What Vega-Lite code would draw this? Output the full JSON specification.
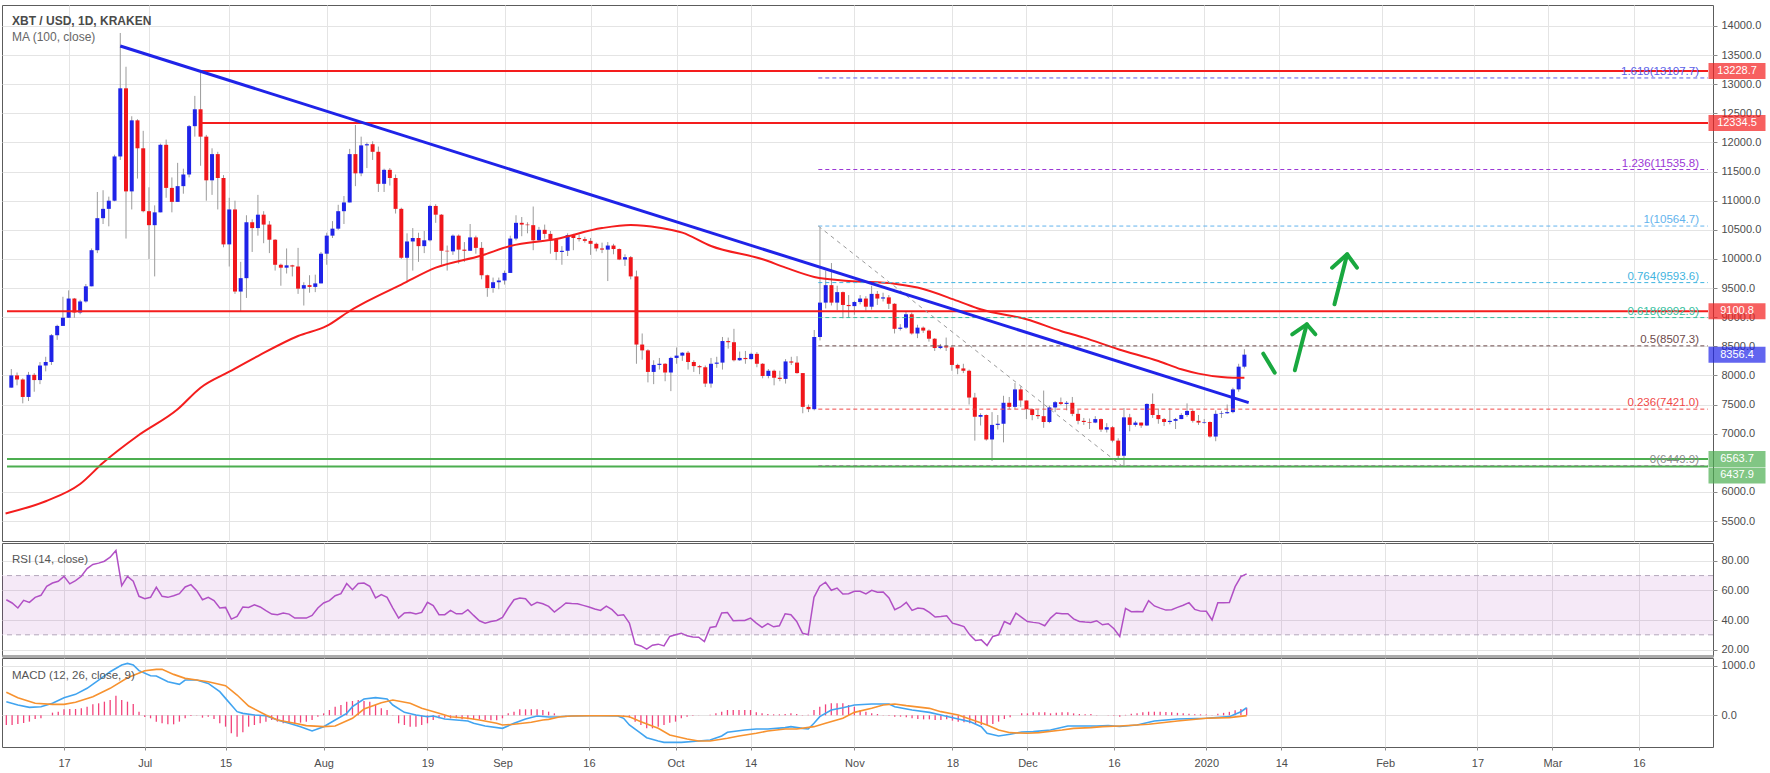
{
"$schema":"https://vega.github.io/schema/vega-lite/v6.json",
"padding":{"left":1,"top":4,"right":0,"bottom":0},
"background":"white",
"spacing":0,
"config":{"font":"Liberation Sans","view":{"stroke":"#5c5c5c","strokeWidth":1},"concat":{"spacing":0},"axis":{"labelFont":"Liberation Sans","labelFontSize":11,"labelColor":"#4d4d4d","gridColor":"#e4e4e4","tickColor":"#8a8a8a","domainColor":"#5c5c5c","labelOverlap":false}},
"resolve":{"scale":{"x":"independent","y":"independent"}},
"datasets":{
"daily":[
{"date":"2019-06-07","o":7790,"h":8110,"l":7790,"c":8000,"rsi":53.7,"hist":-195},
{"date":"2019-06-08","o":8000,"h":8050,"l":7830,"c":7930,"rsi":51.5,"hist":-195},
{"date":"2019-06-09","o":7930,"h":7950,"l":7520,"c":7630,"rsi":48.1,"hist":-174},
{"date":"2019-06-10","o":7630,"h":8060,"l":7560,"c":8010,"rsi":53.3,"hist":-154},
{"date":"2019-06-11","o":8010,"h":8040,"l":7720,"c":7920,"rsi":51.9,"hist":-127},
{"date":"2019-06-12","o":7920,"h":8230,"l":7850,"c":8170,"rsi":55.3,"hist":-74},
{"date":"2019-06-13","o":8170,"h":8320,"l":8070,"c":8230,"rsi":56.7,"hist":-60},
{"date":"2019-06-14","o":8230,"h":8710,"l":8180,"c":8690,"rsi":62.8,"hist":0},
{"date":"2019-06-15","o":8690,"h":8870,"l":8610,"c":8850,"rsi":65.0,"hist":54},
{"date":"2019-06-16","o":8850,"h":9350,"l":8850,"c":8990,"rsi":66.2,"hist":74},
{"date":"2019-06-17","o":8990,"h":9460,"l":8990,"c":9320,"rsi":69.5,"hist":121},
{"date":"2019-06-18","o":9320,"h":9330,"l":8990,"c":9080,"rsi":64.4,"hist":127},
{"date":"2019-06-19","o":9080,"h":9300,"l":9050,"c":9270,"rsi":66.6,"hist":127},
{"date":"2019-06-20","o":9270,"h":9570,"l":9250,"c":9530,"rsi":69.5,"hist":141},
{"date":"2019-06-21","o":9530,"h":10180,"l":9530,"c":10150,"rsi":74.7,"hist":174},
{"date":"2019-06-22","o":10150,"h":11150,"l":10100,"c":10700,"rsi":77.5,"hist":221},
{"date":"2019-06-23","o":10700,"h":11180,"l":10600,"c":10860,"rsi":78.4,"hist":242},
{"date":"2019-06-24","o":10860,"h":11070,"l":10560,"c":11000,"rsi":79.7,"hist":275},
{"date":"2019-06-25","o":11000,"h":11790,"l":10990,"c":11760,"rsi":82.4,"hist":309},
{"date":"2019-06-26","o":11760,"h":13880,"l":11700,"c":12930,"rsi":86.9,"hist":396},
{"date":"2019-06-27","o":12930,"h":13300,"l":10350,"c":11160,"rsi":63.2,"hist":309},
{"date":"2019-06-28","o":11160,"h":12450,"l":10850,"c":12380,"rsi":69.5,"hist":275},
{"date":"2019-06-29","o":12380,"h":12400,"l":11380,"c":11900,"rsi":66.2,"hist":228},
{"date":"2019-06-30","o":11900,"h":12200,"l":10800,"c":10820,"rsi":56.0,"hist":74},
{"date":"2019-07-01","o":10820,"h":11230,"l":10000,"c":10580,"rsi":54.4,"hist":-34},
{"date":"2019-07-02","o":10580,"h":10920,"l":9700,"c":10800,"rsi":55.3,"hist":-60},
{"date":"2019-07-03","o":10800,"h":11980,"l":10800,"c":11960,"rsi":62.1,"hist":-127},
{"date":"2019-07-04","o":11960,"h":12050,"l":11050,"c":11220,"rsi":56.0,"hist":-161},
{"date":"2019-07-05","o":11220,"h":11400,"l":10800,"c":10980,"rsi":55.3,"hist":-181},
{"date":"2019-07-06","o":10980,"h":11650,"l":10980,"c":11250,"rsi":56.4,"hist":-181},
{"date":"2019-07-07","o":11250,"h":11550,"l":11120,"c":11450,"rsi":57.8,"hist":-127},
{"date":"2019-07-08","o":11450,"h":12300,"l":11400,"c":12280,"rsi":62.3,"hist":-60},
{"date":"2019-07-09","o":12280,"h":12800,"l":12100,"c":12570,"rsi":63.9,"hist":-13},
{"date":"2019-07-10","o":12570,"h":13200,"l":11600,"c":12100,"rsi":59.8,"hist":7},
{"date":"2019-07-11","o":12100,"h":12130,"l":11000,"c":11350,"rsi":53.7,"hist":-47},
{"date":"2019-07-12","o":11350,"h":11900,"l":11100,"c":11800,"rsi":55.3,"hist":-27},
{"date":"2019-07-13","o":11800,"h":11840,"l":10850,"c":11390,"rsi":53.1,"hist":-74},
{"date":"2019-07-14","o":11390,"h":11440,"l":10200,"c":10250,"rsi":48.1,"hist":-161},
{"date":"2019-07-15","o":10250,"h":11050,"l":9870,"c":10850,"rsi":48.5,"hist":-228},
{"date":"2019-07-16","o":10850,"h":11000,"l":9400,"c":9440,"rsi":40.6,"hist":-362},
{"date":"2019-07-17","o":9440,"h":9950,"l":9100,"c":9670,"rsi":42.4,"hist":-429},
{"date":"2019-07-18","o":9670,"h":10750,"l":9330,"c":10630,"rsi":48.8,"hist":-342},
{"date":"2019-07-19","o":10630,"h":10680,"l":10120,"c":10530,"rsi":48.5,"hist":-228},
{"date":"2019-07-20","o":10530,"h":11100,"l":10400,"c":10760,"rsi":50.3,"hist":-195},
{"date":"2019-07-21","o":10760,"h":10820,"l":10270,"c":10590,"rsi":48.8,"hist":-161},
{"date":"2019-07-22","o":10590,"h":10650,"l":10100,"c":10330,"rsi":46.3,"hist":-127},
{"date":"2019-07-23","o":10330,"h":10340,"l":9800,"c":9900,"rsi":44.0,"hist":-94},
{"date":"2019-07-24","o":9900,"h":9920,"l":9540,"c":9850,"rsi":43.6,"hist":-127},
{"date":"2019-07-25","o":9850,"h":10180,"l":9750,"c":9890,"rsi":44.7,"hist":-161},
{"date":"2019-07-26","o":9890,"h":9900,"l":9700,"c":9870,"rsi":44.0,"hist":-148},
{"date":"2019-07-27","o":9870,"h":10190,"l":9400,"c":9490,"rsi":41.3,"hist":-161},
{"date":"2019-07-28","o":9490,"h":9600,"l":9200,"c":9550,"rsi":41.3,"hist":-148},
{"date":"2019-07-29","o":9550,"h":9720,"l":9420,"c":9520,"rsi":41.3,"hist":-127},
{"date":"2019-07-30","o":9520,"h":9730,"l":9430,"c":9580,"rsi":43.1,"hist":-94},
{"date":"2019-07-31","o":9580,"h":10120,"l":9580,"c":10090,"rsi":48.1,"hist":-27},
{"date":"2019-08-01","o":10090,"h":10450,"l":9900,"c":10400,"rsi":51.5,"hist":40},
{"date":"2019-08-02","o":10400,"h":10650,"l":10360,"c":10520,"rsi":53.1,"hist":107},
{"date":"2019-08-03","o":10520,"h":10930,"l":10500,"c":10820,"rsi":56.4,"hist":174},
{"date":"2019-08-04","o":10820,"h":11080,"l":10600,"c":10970,"rsi":57.8,"hist":208},
{"date":"2019-08-05","o":10970,"h":11890,"l":10970,"c":11800,"rsi":64.6,"hist":275},
{"date":"2019-08-06","o":11800,"h":12300,"l":11250,"c":11470,"rsi":60.5,"hist":289},
{"date":"2019-08-07","o":11470,"h":12100,"l":11420,"c":11950,"rsi":64.6,"hist":309},
{"date":"2019-08-08","o":11950,"h":12000,"l":11560,"c":11970,"rsi":65.0,"hist":289},
{"date":"2019-08-09","o":11970,"h":12020,"l":11700,"c":11840,"rsi":62.8,"hist":275},
{"date":"2019-08-10","o":11840,"h":11930,"l":11150,"c":11290,"rsi":54.9,"hist":208},
{"date":"2019-08-11","o":11290,"h":11550,"l":11150,"c":11530,"rsi":57.1,"hist":141},
{"date":"2019-08-12","o":11530,"h":11560,"l":11260,"c":11390,"rsi":55.3,"hist":107},
{"date":"2019-08-13","o":11390,"h":11450,"l":10780,"c":10860,"rsi":48.1,"hist":7},
{"date":"2019-08-14","o":10860,"h":10880,"l":10000,"c":10020,"rsi":41.3,"hist":-161},
{"date":"2019-08-15","o":10020,"h":10440,"l":9600,"c":10300,"rsi":44.7,"hist":-195},
{"date":"2019-08-16","o":10300,"h":10530,"l":9800,"c":10360,"rsi":45.1,"hist":-228},
{"date":"2019-08-17","o":10360,"h":10450,"l":9950,"c":10220,"rsi":44.0,"hist":-228},
{"date":"2019-08-18","o":10220,"h":10480,"l":10100,"c":10320,"rsi":45.1,"hist":-195},
{"date":"2019-08-19","o":10320,"h":10930,"l":10300,"c":10910,"rsi":51.9,"hist":-161},
{"date":"2019-08-20","o":10910,"h":10940,"l":10620,"c":10760,"rsi":49.7,"hist":-94},
{"date":"2019-08-21","o":10760,"h":10770,"l":9900,"c":10140,"rsi":43.6,"hist":-60},
{"date":"2019-08-22","o":10140,"h":10230,"l":9800,"c":10130,"rsi":43.6,"hist":-47},
{"date":"2019-08-23","o":10130,"h":10420,"l":10070,"c":10400,"rsi":46.5,"hist":-60},
{"date":"2019-08-24","o":10400,"h":10420,"l":9920,"c":10160,"rsi":44.2,"hist":-60},
{"date":"2019-08-25","o":10160,"h":10290,"l":9950,"c":10140,"rsi":44.2,"hist":-81},
{"date":"2019-08-26","o":10140,"h":10600,"l":10140,"c":10370,"rsi":47.0,"hist":-81},
{"date":"2019-08-27","o":10370,"h":10400,"l":10090,"c":10190,"rsi":43.1,"hist":-81},
{"date":"2019-08-28","o":10190,"h":10290,"l":9650,"c":9720,"rsi":39.5,"hist":-81},
{"date":"2019-08-29","o":9720,"h":9730,"l":9350,"c":9500,"rsi":37.9,"hist":-94},
{"date":"2019-08-30","o":9500,"h":9680,"l":9420,"c":9600,"rsi":39.0,"hist":-101},
{"date":"2019-08-31","o":9600,"h":9680,"l":9480,"c":9630,"rsi":39.7,"hist":-101},
{"date":"2019-09-01","o":9630,"h":9800,"l":9560,"c":9760,"rsi":41.8,"hist":-60},
{"date":"2019-09-02","o":9760,"h":10400,"l":9760,"c":10350,"rsi":48.1,"hist":40},
{"date":"2019-09-03","o":10350,"h":10750,"l":10320,"c":10620,"rsi":53.7,"hist":74},
{"date":"2019-09-04","o":10620,"h":10720,"l":10390,"c":10590,"rsi":54.9,"hist":121},
{"date":"2019-09-05","o":10590,"h":10630,"l":10440,"c":10580,"rsi":54.4,"hist":121},
{"date":"2019-09-06","o":10580,"h":10900,"l":10150,"c":10320,"rsi":49.9,"hist":121},
{"date":"2019-09-07","o":10320,"h":10550,"l":10300,"c":10500,"rsi":51.9,"hist":121},
{"date":"2019-09-08","o":10500,"h":10590,"l":10350,"c":10430,"rsi":51.0,"hist":107},
{"date":"2019-09-09","o":10430,"h":10480,"l":10090,"c":10340,"rsi":49.2,"hist":74},
{"date":"2019-09-10","o":10340,"h":10360,"l":9980,"c":10120,"rsi":45.4,"hist":40},
{"date":"2019-09-11","o":10120,"h":10220,"l":9900,"c":10140,"rsi":48.3,"hist":0},
{"date":"2019-09-12","o":10140,"h":10440,"l":10050,"c":10410,"rsi":51.5,"hist":5},
{"date":"2019-09-13","o":10410,"h":10430,"l":10150,"c":10360,"rsi":51.2,"hist":3},
{"date":"2019-09-14","o":10360,"h":10420,"l":10300,"c":10340,"rsi":51.0,"hist":-3},
{"date":"2019-09-15","o":10340,"h":10380,"l":10280,"c":10310,"rsi":49.9,"hist":0},
{"date":"2019-09-16","o":10310,"h":10360,"l":10070,"c":10260,"rsi":48.8,"hist":-5},
{"date":"2019-09-17","o":10260,"h":10280,"l":10130,"c":10180,"rsi":47.4,"hist":-3},
{"date":"2019-09-18","o":10180,"h":10280,"l":10100,"c":10160,"rsi":46.5,"hist":0},
{"date":"2019-09-19","o":10160,"h":10290,"l":9620,"c":10230,"rsi":49.4,"hist":3},
{"date":"2019-09-20","o":10230,"h":10260,"l":10080,"c":10170,"rsi":47.0,"hist":-5},
{"date":"2019-09-21","o":10170,"h":10180,"l":9980,"c":9990,"rsi":43.1,"hist":-8},
{"date":"2019-09-22","o":9990,"h":10080,"l":9880,"c":10030,"rsi":43.6,"hist":-10},
{"date":"2019-09-23","o":10030,"h":10050,"l":9650,"c":9700,"rsi":37.9,"hist":-47},
{"date":"2019-09-24","o":9700,"h":9800,"l":8200,"c":8530,"rsi":23.7,"hist":-127},
{"date":"2019-09-25","o":8530,"h":8720,"l":8270,"c":8430,"rsi":22.5,"hist":-195},
{"date":"2019-09-26","o":8430,"h":8450,"l":7880,"c":8060,"rsi":20.3,"hist":-262},
{"date":"2019-09-27","o":8060,"h":8260,"l":7850,"c":8180,"rsi":23.0,"hist":-262},
{"date":"2019-09-28","o":8180,"h":8300,"l":8100,"c":8200,"rsi":23.7,"hist":-228},
{"date":"2019-09-29","o":8200,"h":8210,"l":7900,"c":8050,"rsi":22.5,"hist":-195},
{"date":"2019-09-30","o":8050,"h":8320,"l":7730,"c":8300,"rsi":28.9,"hist":-148},
{"date":"2019-10-01","o":8300,"h":8480,"l":8200,"c":8340,"rsi":30.0,"hist":-127},
{"date":"2019-10-02","o":8340,"h":8400,"l":8250,"c":8390,"rsi":31.1,"hist":-60},
{"date":"2019-10-03","o":8390,"h":8420,"l":8100,"c":8230,"rsi":29.3,"hist":-27},
{"date":"2019-10-04","o":8230,"h":8260,"l":8060,"c":8160,"rsi":28.6,"hist":-10},
{"date":"2019-10-05","o":8160,"h":8180,"l":8020,"c":8140,"rsi":28.4,"hist":-3},
{"date":"2019-10-06","o":8140,"h":8170,"l":7800,"c":7860,"rsi":25.5,"hist":0},
{"date":"2019-10-07","o":7860,"h":8300,"l":7790,"c":8200,"rsi":35.0,"hist":13},
{"date":"2019-10-08","o":8200,"h":8320,"l":8130,"c":8220,"rsi":35.6,"hist":40},
{"date":"2019-10-09","o":8220,"h":8660,"l":8100,"c":8590,"rsi":44.7,"hist":74},
{"date":"2019-10-10","o":8590,"h":8650,"l":8460,"c":8570,"rsi":45.1,"hist":107},
{"date":"2019-10-11","o":8570,"h":8800,"l":8240,"c":8260,"rsi":39.5,"hist":107},
{"date":"2019-10-12","o":8260,"h":8410,"l":8250,"c":8300,"rsi":39.7,"hist":107},
{"date":"2019-10-13","o":8300,"h":8420,"l":8200,"c":8280,"rsi":39.7,"hist":107},
{"date":"2019-10-14","o":8280,"h":8390,"l":8270,"c":8370,"rsi":41.3,"hist":107},
{"date":"2019-10-15","o":8370,"h":8400,"l":8140,"c":8200,"rsi":37.9,"hist":60},
{"date":"2019-10-16","o":8200,"h":8210,"l":7950,"c":7990,"rsi":35.0,"hist":40},
{"date":"2019-10-17","o":7990,"h":8110,"l":7950,"c":8080,"rsi":37.5,"hist":27},
{"date":"2019-10-18","o":8080,"h":8100,"l":7830,"c":7960,"rsi":35.4,"hist":20},
{"date":"2019-10-19","o":7960,"h":8080,"l":7900,"c":7940,"rsi":36.1,"hist":20},
{"date":"2019-10-20","o":7940,"h":8280,"l":7860,"c":8240,"rsi":44.2,"hist":27},
{"date":"2019-10-21","o":8240,"h":8320,"l":8180,"c":8220,"rsi":43.6,"hist":40},
{"date":"2019-10-22","o":8220,"h":8330,"l":8030,"c":8040,"rsi":39.0,"hist":27},
{"date":"2019-10-23","o":8040,"h":8040,"l":7350,"c":7460,"rsi":31.1,"hist":7},
{"date":"2019-10-24","o":7460,"h":7500,"l":7370,"c":7420,"rsi":30.0,"hist":10},
{"date":"2019-10-25","o":7420,"h":8780,"l":7400,"c":8660,"rsi":55.3,"hist":107},
{"date":"2019-10-26","o":8660,"h":10540,"l":8600,"c":9250,"rsi":62.8,"hist":174},
{"date":"2019-10-27","o":9250,"h":9800,"l":9150,"c":9550,"rsi":65.5,"hist":221},
{"date":"2019-10-28","o":9550,"h":9930,"l":9200,"c":9250,"rsi":60.1,"hist":242},
{"date":"2019-10-29","o":9250,"h":9540,"l":9120,"c":9430,"rsi":61.6,"hist":242},
{"date":"2019-10-30","o":9430,"h":9440,"l":8980,"c":9210,"rsi":57.6,"hist":242},
{"date":"2019-10-31","o":9210,"h":9380,"l":8990,"c":9190,"rsi":57.8,"hist":208},
{"date":"2019-11-01","o":9190,"h":9280,"l":9040,"c":9260,"rsi":59.4,"hist":174},
{"date":"2019-11-02","o":9260,"h":9380,"l":9220,"c":9320,"rsi":59.4,"hist":107},
{"date":"2019-11-03","o":9320,"h":9360,"l":9110,"c":9180,"rsi":57.6,"hist":74},
{"date":"2019-11-04","o":9180,"h":9540,"l":9130,"c":9400,"rsi":60.1,"hist":40},
{"date":"2019-11-05","o":9400,"h":9450,"l":9210,"c":9320,"rsi":58.7,"hist":27},
{"date":"2019-11-06","o":9320,"h":9420,"l":9270,"c":9340,"rsi":58.9,"hist":7},
{"date":"2019-11-07","o":9340,"h":9380,"l":9140,"c":9230,"rsi":54.9,"hist":-7},
{"date":"2019-11-08","o":9230,"h":9240,"l":8720,"c":8800,"rsi":47.0,"hist":-27},
{"date":"2019-11-09","o":8800,"h":8880,"l":8770,"c":8820,"rsi":48.8,"hist":-27},
{"date":"2019-11-10","o":8820,"h":9100,"l":8800,"c":9050,"rsi":51.9,"hist":-40},
{"date":"2019-11-11","o":9050,"h":9080,"l":8700,"c":8720,"rsi":46.5,"hist":-60},
{"date":"2019-11-12","o":8720,"h":8870,"l":8640,"c":8820,"rsi":48.1,"hist":-74},
{"date":"2019-11-13","o":8820,"h":8840,"l":8730,"c":8770,"rsi":47.6,"hist":-81},
{"date":"2019-11-14","o":8770,"h":8790,"l":8580,"c":8630,"rsi":45.1,"hist":-81},
{"date":"2019-11-15","o":8630,"h":8640,"l":8420,"c":8470,"rsi":42.0,"hist":-94},
{"date":"2019-11-16","o":8470,"h":8540,"l":8450,"c":8500,"rsi":42.4,"hist":-94},
{"date":"2019-11-17","o":8500,"h":8650,"l":8420,"c":8480,"rsi":42.9,"hist":-81},
{"date":"2019-11-18","o":8480,"h":8510,"l":8080,"c":8180,"rsi":37.9,"hist":-107},
{"date":"2019-11-19","o":8180,"h":8200,"l":8020,"c":8120,"rsi":36.8,"hist":-127},
{"date":"2019-11-20","o":8120,"h":8200,"l":8040,"c":8080,"rsi":35.6,"hist":-141},
{"date":"2019-11-21","o":8080,"h":8100,"l":7500,"c":7620,"rsi":30.0,"hist":-161},
{"date":"2019-11-22","o":7620,"h":7700,"l":6880,"c":7290,"rsi":26.2,"hist":-174},
{"date":"2019-11-23","o":7290,"h":7350,"l":7140,"c":7320,"rsi":26.6,"hist":-195},
{"date":"2019-11-24","o":7320,"h":7330,"l":6880,"c":6900,"rsi":22.8,"hist":-195},
{"date":"2019-11-25","o":6900,"h":7370,"l":6530,"c":7150,"rsi":28.9,"hist":-174},
{"date":"2019-11-26","o":7150,"h":7320,"l":7070,"c":7170,"rsi":30.0,"hist":-127},
{"date":"2019-11-27","o":7170,"h":7650,"l":6850,"c":7530,"rsi":39.0,"hist":-74},
{"date":"2019-11-28","o":7530,"h":7630,"l":7420,"c":7460,"rsi":37.2,"hist":-40},
{"date":"2019-11-29","o":7460,"h":7870,"l":7420,"c":7760,"rsi":44.7,"hist":0},
{"date":"2019-11-30","o":7760,"h":7810,"l":7460,"c":7570,"rsi":41.8,"hist":40},
{"date":"2019-12-01","o":7570,"h":7570,"l":7250,"c":7420,"rsi":39.0,"hist":40},
{"date":"2019-12-02","o":7420,"h":7430,"l":7230,"c":7320,"rsi":38.4,"hist":60},
{"date":"2019-12-03","o":7320,"h":7410,"l":7250,"c":7300,"rsi":37.9,"hist":60},
{"date":"2019-12-04","o":7300,"h":7740,"l":7100,"c":7200,"rsi":36.1,"hist":60},
{"date":"2019-12-05","o":7200,"h":7480,"l":7180,"c":7450,"rsi":41.3,"hist":40},
{"date":"2019-12-06","o":7450,"h":7560,"l":7370,"c":7540,"rsi":44.7,"hist":54},
{"date":"2019-12-07","o":7540,"h":7620,"l":7490,"c":7510,"rsi":44.2,"hist":60},
{"date":"2019-12-08","o":7510,"h":7560,"l":7400,"c":7530,"rsi":44.2,"hist":60},
{"date":"2019-12-09","o":7530,"h":7630,"l":7300,"c":7340,"rsi":40.8,"hist":40},
{"date":"2019-12-10","o":7340,"h":7410,"l":7160,"c":7220,"rsi":39.0,"hist":27},
{"date":"2019-12-11","o":7220,"h":7270,"l":7150,"c":7200,"rsi":38.6,"hist":20},
{"date":"2019-12-12","o":7200,"h":7260,"l":7080,"c":7190,"rsi":38.4,"hist":27},
{"date":"2019-12-13","o":7190,"h":7300,"l":7180,"c":7250,"rsi":39.5,"hist":7},
{"date":"2019-12-14","o":7250,"h":7260,"l":7030,"c":7070,"rsi":36.8,"hist":0},
{"date":"2019-12-15","o":7070,"h":7180,"l":7020,"c":7110,"rsi":37.5,"hist":7},
{"date":"2019-12-16","o":7110,"h":7130,"l":6850,"c":6880,"rsi":34.1,"hist":-7},
{"date":"2019-12-17","o":6880,"h":6920,"l":6560,"c":6620,"rsi":28.9,"hist":-28},
{"date":"2019-12-18","o":6620,"h":7440,"l":6435,"c":7280,"rsi":47.9,"hist":10},
{"date":"2019-12-19","o":7280,"h":7340,"l":7040,"c":7150,"rsi":45.6,"hist":30},
{"date":"2019-12-20","o":7150,"h":7220,"l":7120,"c":7190,"rsi":45.8,"hist":40},
{"date":"2019-12-21","o":7190,"h":7190,"l":7100,"c":7140,"rsi":45.6,"hist":60},
{"date":"2019-12-22","o":7140,"h":7520,"l":7130,"c":7510,"rsi":53.1,"hist":73},
{"date":"2019-12-23","o":7510,"h":7690,"l":7270,"c":7320,"rsi":49.5,"hist":73},
{"date":"2019-12-24","o":7320,"h":7430,"l":7170,"c":7250,"rsi":48.0,"hist":70},
{"date":"2019-12-25","o":7250,"h":7270,"l":7130,"c":7200,"rsi":46.7,"hist":65},
{"date":"2019-12-26","o":7200,"h":7440,"l":7160,"c":7220,"rsi":47.0,"hist":60},
{"date":"2019-12-27","o":7220,"h":7270,"l":7080,"c":7250,"rsi":48.5,"hist":50},
{"date":"2019-12-28","o":7250,"h":7350,"l":7250,"c":7320,"rsi":50.0,"hist":40},
{"date":"2019-12-29","o":7320,"h":7520,"l":7290,"c":7390,"rsi":51.7,"hist":30},
{"date":"2019-12-30","o":7390,"h":7410,"l":7190,"c":7220,"rsi":47.2,"hist":20},
{"date":"2019-12-31","o":7220,"h":7320,"l":7150,"c":7190,"rsi":46.0,"hist":20},
{"date":"2020-01-01","o":7190,"h":7250,"l":7170,"c":7200,"rsi":45.9,"hist":15},
{"date":"2020-01-02","o":7200,"h":7210,"l":6930,"c":6950,"rsi":40.0,"hist":5},
{"date":"2020-01-03","o":6950,"h":7400,"l":6870,"c":7340,"rsi":51.7,"hist":30},
{"date":"2020-01-04","o":7340,"h":7390,"l":7270,"c":7350,"rsi":51.7,"hist":50},
{"date":"2020-01-05","o":7350,"h":7500,"l":7340,"c":7370,"rsi":51.8,"hist":70},
{"date":"2020-01-06","o":7370,"h":7790,"l":7350,"c":7760,"rsi":62.5,"hist":100},
{"date":"2020-01-07","o":7760,"h":8200,"l":7720,"c":8150,"rsi":69.3,"hist":130},
{"date":"2020-01-08","o":8150,"h":8450,"l":8120,"c":8356.4,"rsi":71.2,"hist":155}
],
"ma":[
{"date":"2019-06-06","v":5630},{"date":"2019-06-13","v":5840},{"date":"2019-06-19","v":6136},{"date":"2019-06-23","v":6500},{"date":"2019-06-29","v":6960},{"date":"2019-07-06","v":7418},{"date":"2019-07-10","v":7789},{"date":"2019-07-15","v":8064},{"date":"2019-07-20","v":8333},{"date":"2019-07-27","v":8677},{"date":"2019-08-01","v":8849},{"date":"2019-08-05","v":9106},{"date":"2019-08-08","v":9270},{"date":"2019-08-14","v":9560},{"date":"2019-08-20","v":9850},{"date":"2019-08-28","v":10060},{"date":"2019-09-02","v":10223},{"date":"2019-09-10","v":10343},{"date":"2019-09-18","v":10530},{"date":"2019-09-23","v":10583},{"date":"2019-09-28","v":10537},{"date":"2019-10-02","v":10452},{"date":"2019-10-07","v":10223},{"date":"2019-10-16","v":9994},{"date":"2019-10-20","v":9851},{"date":"2019-10-25","v":9690},{"date":"2019-10-31","v":9622},{"date":"2019-11-08","v":9576},{"date":"2019-11-12","v":9508},{"date":"2019-11-19","v":9279},{"date":"2019-11-23","v":9135},{"date":"2019-12-01","v":8963},{"date":"2019-12-07","v":8764},{"date":"2019-12-11","v":8649},{"date":"2019-12-17","v":8449},{"date":"2019-12-24","v":8248},{"date":"2019-12-28","v":8105},{"date":"2019-12-31","v":8031},{"date":"2020-01-04","v":7973},{"date":"2020-01-06","v":7962},{"date":"2020-01-08","v":7960}
],
"macd":[
{"s":"macd","date":"2019-06-07","v":275},{"s":"macd","date":"2019-06-09","v":208},{"s":"macd","date":"2019-06-11","v":161},{"s":"macd","date":"2019-06-13","v":174},{"s":"macd","date":"2019-06-15","v":242},{"s":"macd","date":"2019-06-17","v":356},{"s":"macd","date":"2019-06-19","v":423},{"s":"macd","date":"2019-06-21","v":544},{"s":"macd","date":"2019-06-23","v":711},{"s":"macd","date":"2019-06-25","v":879},{"s":"macd","date":"2019-06-27","v":1013},{"s":"macd","date":"2019-06-28","v":1047},{"s":"macd","date":"2019-06-29","v":1013},{"s":"macd","date":"2019-06-30","v":900},{"s":"macd","date":"2019-07-02","v":798},{"s":"macd","date":"2019-07-03","v":792},{"s":"macd","date":"2019-07-05","v":678},{"s":"macd","date":"2019-07-07","v":624},{"s":"macd","date":"2019-07-08","v":711},{"s":"macd","date":"2019-07-10","v":711},{"s":"macd","date":"2019-07-12","v":644},{"s":"macd","date":"2019-07-14","v":476},{"s":"macd","date":"2019-07-15","v":342},{"s":"macd","date":"2019-07-17","v":74},{"s":"macd","date":"2019-07-18","v":40},{"s":"macd","date":"2019-07-20","v":7},{"s":"macd","date":"2019-07-22","v":-7},{"s":"macd","date":"2019-07-24","v":-94},{"s":"macd","date":"2019-07-26","v":-161},{"s":"macd","date":"2019-07-28","v":-228},{"s":"macd","date":"2019-07-30","v":-315},{"s":"macd","date":"2019-08-01","v":-228},{"s":"macd","date":"2019-08-03","v":-94},{"s":"macd","date":"2019-08-05","v":40},{"s":"macd","date":"2019-08-06","v":174},{"s":"macd","date":"2019-08-08","v":329},{"s":"macd","date":"2019-08-10","v":356},{"s":"macd","date":"2019-08-12","v":329},{"s":"macd","date":"2019-08-13","v":208},{"s":"macd","date":"2019-08-15","v":60},{"s":"macd","date":"2019-08-17","v":7},{"s":"macd","date":"2019-08-19","v":-27},{"s":"macd","date":"2019-08-20","v":-13},{"s":"macd","date":"2019-08-22","v":-74},{"s":"macd","date":"2019-08-24","v":-94},{"s":"macd","date":"2019-08-26","v":-114},{"s":"macd","date":"2019-08-27","v":-161},{"s":"macd","date":"2019-08-29","v":-215},{"s":"macd","date":"2019-09-01","v":-262},{"s":"macd","date":"2019-09-03","v":-161},{"s":"macd","date":"2019-09-05","v":-74},{"s":"macd","date":"2019-09-07","v":-13},{"s":"macd","date":"2019-09-09","v":-35},{"s":"macd","date":"2019-09-11","v":-30},{"s":"macd","date":"2019-09-13","v":-13},{"s":"macd","date":"2019-09-16","v":-7},{"s":"macd","date":"2019-09-18","v":-7},{"s":"macd","date":"2019-09-21","v":-13},{"s":"macd","date":"2019-09-22","v":-60},{"s":"macd","date":"2019-09-23","v":-195},{"s":"macd","date":"2019-09-25","v":-362},{"s":"macd","date":"2019-09-26","v":-450},{"s":"macd","date":"2019-09-28","v":-517},{"s":"macd","date":"2019-09-29","v":-544},{"s":"macd","date":"2019-10-02","v":-544},{"s":"macd","date":"2019-10-05","v":-517},{"s":"macd","date":"2019-10-07","v":-497},{"s":"macd","date":"2019-10-09","v":-416},{"s":"macd","date":"2019-10-10","v":-342},{"s":"macd","date":"2019-10-13","v":-295},{"s":"macd","date":"2019-10-15","v":-275},{"s":"macd","date":"2019-10-17","v":-275},{"s":"macd","date":"2019-10-20","v":-248},{"s":"macd","date":"2019-10-21","v":-228},{"s":"macd","date":"2019-10-23","v":-262},{"s":"macd","date":"2019-10-24","v":-275},{"s":"macd","date":"2019-10-25","v":-161},{"s":"macd","date":"2019-10-26","v":-27},{"s":"macd","date":"2019-10-28","v":107},{"s":"macd","date":"2019-10-30","v":154},{"s":"macd","date":"2019-11-01","v":208},{"s":"macd","date":"2019-11-04","v":228},{"s":"macd","date":"2019-11-07","v":228},{"s":"macd","date":"2019-11-08","v":174},{"s":"macd","date":"2019-11-11","v":107},{"s":"macd","date":"2019-11-14","v":60},{"s":"macd","date":"2019-11-16","v":7},{"s":"macd","date":"2019-11-19","v":-74},{"s":"macd","date":"2019-11-21","v":-127},{"s":"macd","date":"2019-11-23","v":-228},{"s":"macd","date":"2019-11-24","v":-362},{"s":"macd","date":"2019-11-26","v":-416},{"s":"macd","date":"2019-11-28","v":-382},{"s":"macd","date":"2019-11-30","v":-335},{"s":"macd","date":"2019-12-02","v":-329},{"s":"macd","date":"2019-12-05","v":-295},{"s":"macd","date":"2019-12-08","v":-215},{"s":"macd","date":"2019-12-10","v":-215},{"s":"macd","date":"2019-12-13","v":-215},{"s":"macd","date":"2019-12-15","v":-208},{"s":"macd","date":"2019-12-17","v":-225},{"s":"macd","date":"2019-12-20","v":-195},{"s":"macd","date":"2019-12-23","v":-114},{"s":"macd","date":"2019-12-27","v":-74},{"s":"macd","date":"2020-01-01","v":-60},{"s":"macd","date":"2020-01-05","v":-26},{"s":"macd","date":"2020-01-07","v":73},{"s":"macd","date":"2020-01-08","v":153},
{"s":"signal","date":"2019-06-07","v":463},{"s":"signal","date":"2019-06-09","v":356},{"s":"signal","date":"2019-06-12","v":242},{"s":"signal","date":"2019-06-15","v":221},{"s":"signal","date":"2019-06-17","v":221},{"s":"signal","date":"2019-06-19","v":262},{"s":"signal","date":"2019-06-22","v":376},{"s":"signal","date":"2019-06-25","v":544},{"s":"signal","date":"2019-06-28","v":758},{"s":"signal","date":"2019-07-01","v":899},{"s":"signal","date":"2019-07-03","v":926},{"s":"signal","date":"2019-07-04","v":926},{"s":"signal","date":"2019-07-06","v":825},{"s":"signal","date":"2019-07-08","v":745},{"s":"signal","date":"2019-07-10","v":711},{"s":"signal","date":"2019-07-12","v":678},{"s":"signal","date":"2019-07-15","v":597},{"s":"signal","date":"2019-07-17","v":409},{"s":"signal","date":"2019-07-19","v":188},{"s":"signal","date":"2019-07-22","v":7},{"s":"signal","date":"2019-07-24","v":-94},{"s":"signal","date":"2019-07-27","v":-161},{"s":"signal","date":"2019-07-29","v":-208},{"s":"signal","date":"2019-08-01","v":-228},{"s":"signal","date":"2019-08-03","v":-215},{"s":"signal","date":"2019-08-06","v":-60},{"s":"signal","date":"2019-08-08","v":127},{"s":"signal","date":"2019-08-11","v":255},{"s":"signal","date":"2019-08-13","v":309},{"s":"signal","date":"2019-08-16","v":242},{"s":"signal","date":"2019-08-18","v":141},{"s":"signal","date":"2019-08-21","v":40},{"s":"signal","date":"2019-08-23","v":-27},{"s":"signal","date":"2019-08-26","v":-60},{"s":"signal","date":"2019-08-28","v":-94},{"s":"signal","date":"2019-08-31","v":-161},{"s":"signal","date":"2019-09-01","v":-195},{"s":"signal","date":"2019-09-03","v":-181},{"s":"signal","date":"2019-09-06","v":-141},{"s":"signal","date":"2019-09-08","v":-94},{"s":"signal","date":"2019-09-09","v":-81},{"s":"signal","date":"2019-09-11","v":-30},{"s":"signal","date":"2019-09-13","v":-13},{"s":"signal","date":"2019-09-16","v":-7},{"s":"signal","date":"2019-09-18","v":-7},{"s":"signal","date":"2019-09-21","v":-7},{"s":"signal","date":"2019-09-23","v":-27},{"s":"signal","date":"2019-09-25","v":-127},{"s":"signal","date":"2019-09-28","v":-262},{"s":"signal","date":"2019-09-30","v":-396},{"s":"signal","date":"2019-10-03","v":-476},{"s":"signal","date":"2019-10-05","v":-517},{"s":"signal","date":"2019-10-07","v":-517},{"s":"signal","date":"2019-10-10","v":-463},{"s":"signal","date":"2019-10-12","v":-416},{"s":"signal","date":"2019-10-15","v":-362},{"s":"signal","date":"2019-10-17","v":-315},{"s":"signal","date":"2019-10-20","v":-275},{"s":"signal","date":"2019-10-22","v":-275},{"s":"signal","date":"2019-10-25","v":-228},{"s":"signal","date":"2019-10-27","v":-161},{"s":"signal","date":"2019-10-30","v":-60},{"s":"signal","date":"2019-11-01","v":60},{"s":"signal","date":"2019-11-04","v":141},{"s":"signal","date":"2019-11-06","v":208},{"s":"signal","date":"2019-11-08","v":228},{"s":"signal","date":"2019-11-10","v":195},{"s":"signal","date":"2019-11-14","v":141},{"s":"signal","date":"2019-11-16","v":74},{"s":"signal","date":"2019-11-19","v":7},{"s":"signal","date":"2019-11-21","v":-74},{"s":"signal","date":"2019-11-24","v":-195},{"s":"signal","date":"2019-11-26","v":-295},{"s":"signal","date":"2019-11-28","v":-349},{"s":"signal","date":"2019-12-01","v":-362},{"s":"signal","date":"2019-12-03","v":-349},{"s":"signal","date":"2019-12-07","v":-295},{"s":"signal","date":"2019-12-09","v":-262},{"s":"signal","date":"2019-12-12","v":-248},{"s":"signal","date":"2019-12-14","v":-228},{"s":"signal","date":"2019-12-17","v":-215},{"s":"signal","date":"2019-12-22","v":-181},{"s":"signal","date":"2019-12-27","v":-114},{"s":"signal","date":"2020-01-01","v":-60},{"s":"signal","date":"2020-01-05","v":-47},{"s":"signal","date":"2020-01-08","v":-6}
],
"levels":[
{"start":"2019-07-09T12:00:00Z","end":"2020-03-28T20:00:00Z","v":13228.7,"kind":"res"},
{"start":"2019-07-10T00:00:00Z","end":"2020-03-28T20:00:00Z","v":12334.5,"kind":"res"},
{"start":"2019-06-06T06:00:00Z","end":"2020-03-28T20:00:00Z","v":9100.8,"kind":"res"},
{"start":"2020-01-08T00:00:00Z","end":"2020-03-28T20:00:00Z","v":8356.4,"kind":"last"},
{"start":"2019-06-06T06:00:00Z","end":"2020-03-28T20:00:00Z","v":6563.7,"kind":"sup"},
{"start":"2019-06-06T06:00:00Z","end":"2020-03-28T20:00:00Z","v":6437.9,"kind":"sup"}
],
"fib":[
{"level":"1.618","start":"2019-10-25T17:00:00Z","end":"2020-03-28T20:00:00Z","v":13107.7,"label":"1.618(13107.7)"},
{"level":"1.236","start":"2019-10-25T17:00:00Z","end":"2020-03-28T20:00:00Z","v":11535.8,"label":"1.236(11535.8)"},
{"level":"1","start":"2019-10-25T17:00:00Z","end":"2020-03-28T20:00:00Z","v":10564.7,"label":"1(10564.7)"},
{"level":"0.764","start":"2019-10-25T17:00:00Z","end":"2020-03-28T20:00:00Z","v":9593.6,"label":"0.764(9593.6)"},
{"level":"0.618","start":"2019-10-25T17:00:00Z","end":"2020-03-28T20:00:00Z","v":8992.9,"label":"0.618(8992.9)"},
{"level":"0.5","start":"2019-10-25T17:00:00Z","end":"2020-03-28T20:00:00Z","v":8507.3,"label":"0.5(8507.3)"},
{"level":"0.236","start":"2019-10-25T17:00:00Z","end":"2020-03-28T20:00:00Z","v":7421.0,"label":"0.236(7421.0)"},
{"level":"0","start":"2019-10-25T17:00:00Z","end":"2020-03-28T20:00:00Z","v":6449.9,"label":"0(6449.9)"}
],
"arrows":[
{"seg":"a1","k":0,"date":"2020-01-11T07:00:00Z","p":8373},{"seg":"a1","k":1,"date":"2020-01-13T07:00:00Z","p":8047},
{"seg":"a2","k":0,"date":"2020-01-16T19:00:00Z","p":8088},{"seg":"a2","k":1,"date":"2020-01-18T21:00:00Z","p":8878},
{"seg":"a2h","k":0,"date":"2020-01-16T08:00:00Z","p":8706},{"seg":"a2h","k":1,"date":"2020-01-18T21:00:00Z","p":8878},{"seg":"a2h","k":2,"date":"2020-01-20T09:00:00Z","p":8706},
{"seg":"a3","k":0,"date":"2020-01-23T17:00:00Z","p":9221},{"seg":"a3","k":1,"date":"2020-01-25T22:00:00Z","p":10080},
{"seg":"a3h","k":0,"date":"2020-01-23T07:00:00Z","p":9850},{"seg":"a3h","k":1,"date":"2020-01-25T22:00:00Z","p":10080},{"seg":"a3h","k":2,"date":"2020-01-27T15:00:00Z","p":9850}
]
},
"vconcat":[
{
"width":1711,"height":536,
"title":{"text":"XBT / USD, 1D, KRAKEN","subtitle":"MA (100, close)","anchor":"start","frame":"group","offset":-39,"dx":10,"font":"Liberation Sans","fontSize":12,"fontWeight":"bold","color":"#4a4a4a","subtitleFont":"Liberation Sans","subtitleFontSize":12,"subtitleColor":"#666666","subtitlePadding":4},
"resolve":{"scale":{"color":"independent"}},
"layer":[
{"data":{"name":"daily"},"mark":{"type":"rule","color":"#9b9b9b","strokeWidth":1,"clip":true},
"encoding":{
"x":{"field":"date","type":"temporal","title":null,"scale":{"type":"utc","domain":[{"year":2019,"month":6,"date":6,"hours":6,"utc":true},{"year":2020,"month":3,"date":28,"hours":20,"utc":true}]},
"axis":{"values":[{"year":2019,"month":6,"date":17,"utc":true},{"year":2019,"month":7,"date":1,"utc":true},{"year":2019,"month":7,"date":15,"utc":true},{"year":2019,"month":8,"date":1,"utc":true},{"year":2019,"month":8,"date":19,"utc":true},{"year":2019,"month":9,"date":1,"utc":true},{"year":2019,"month":9,"date":16,"utc":true},{"year":2019,"month":10,"date":1,"utc":true},{"year":2019,"month":10,"date":14,"utc":true},{"year":2019,"month":11,"date":1,"utc":true},{"year":2019,"month":11,"date":18,"utc":true},{"year":2019,"month":12,"date":1,"utc":true},{"year":2019,"month":12,"date":16,"utc":true},{"year":2020,"month":1,"date":1,"utc":true},{"year":2020,"month":1,"date":14,"utc":true},{"year":2020,"month":2,"date":1,"utc":true},{"year":2020,"month":2,"date":17,"utc":true},{"year":2020,"month":3,"date":1,"utc":true},{"year":2020,"month":3,"date":16,"utc":true}],"tickCount":40,"labels":false,"ticks":false,"domain":false,"grid":true}},
"y":{"field":"l","type":"quantitative","title":null,"scale":{"domain":[5156.6,14360.6],"nice":false,"zero":false},
"axis":{"orient":"right","values":[5500,6000,7000,7500,8000,8500,9000,9500,10000,10500,11000,11500,12000,12500,13000,13500,14000],"tickCount":40,"format":".1f","grid":true,"domain":false,"tickSize":4,"labelPadding":4,"labelOverlap":false}},
"y2":{"field":"h"}}},
{"data":{"name":"daily"},"transform":[{"filter":"datum.c >= datum.o"}],"mark":{"type":"bar","width":4,"color":"#1f23e8","clip":true},
"encoding":{
"x":{"field":"date","type":"temporal","title":null},
"y":{"field":"o","type":"quantitative","title":null},
"y2":{"field":"c"}}},
{"data":{"name":"daily"},"transform":[{"filter":"datum.c < datum.o"}],"mark":{"type":"bar","width":4,"color":"#f0161b","clip":true},
"encoding":{
"x":{"field":"date","type":"temporal","title":null},
"y":{"field":"o","type":"quantitative","title":null},
"y2":{"field":"c"}}},
{"data":{"name":"ma"},"mark":{"type":"line","color":"#f41d1d","strokeWidth":2,"interpolate":"monotone","clip":true},
"encoding":{
"x":{"field":"date","type":"temporal","title":null},
"y":{"field":"v","type":"quantitative","title":null}}},
{"data":{"name":"levels"},"transform":[{"filter":"datum.kind != 'last'"}],"mark":{"type":"rule","strokeWidth":2,"clip":true},
"encoding":{
"x":{"field":"start","type":"temporal","title":null},
"x2":{"field":"end"},
"y":{"field":"v","type":"quantitative","title":null},
"color":{"field":"kind","type":"nominal","scale":{"domain":["res","sup","last"],"range":["#f41d1d","#4cae50","#1f23e8"]},"legend":null}}},
{"data":{"name":"fib"},"mark":{"type":"rule","strokeWidth":1,"strokeDash":[4,3],"clip":true},
"encoding":{
"x":{"field":"start","type":"temporal","title":null},
"x2":{"field":"end"},
"y":{"field":"v","type":"quantitative","title":null},
"color":{"field":"level","type":"nominal","scale":{"domain":["1.618","1.236","1","0.764","0.618","0.5","0.236","0"],"range":["#5b5ee8","#9c38d6","#63b3ed","#3fb4e0","#36bfa0","#6e4b4b","#f04848","#8a8a8a"]},"legend":null}}},
{"data":{"name":"fib"},"mark":{"type":"text","align":"right","baseline":"bottom","dx":-9,"dy":-1,"fontSize":11.5,"font":"Liberation Sans"},
"encoding":{
"x":{"field":"end","type":"temporal","title":null},
"y":{"field":"v","type":"quantitative","title":null},
"text":{"field":"label","type":"nominal"},
"color":{"field":"level","type":"nominal","scale":{"domain":["1.618","1.236","1","0.764","0.618","0.5","0.236","0"],"range":["#5b5ee8","#9c38d6","#63b3ed","#3fb4e0","#36bfa0","#6e4b4b","#f04848","#8a8a8a"]},"legend":null}}},
{"data":{"values":[{"date":"2019-10-25T17:00:00Z","p":10564.7},{"date":"2019-12-17T14:00:00Z","p":6449.9}]},"mark":{"type":"line","color":"#9a9a9a","strokeWidth":1,"strokeDash":[4,4],"clip":true},
"encoding":{
"x":{"field":"date","type":"temporal","title":null},
"y":{"field":"p","type":"quantitative","title":null}}},
{"data":{"values":[{"date":"2019-06-26T00:00:00Z","p":13656},{"date":"2020-01-08T18:00:00Z","p":7532}]},"mark":{"type":"line","color":"#1f23e8","strokeWidth":3,"clip":true},
"encoding":{
"x":{"field":"date","type":"temporal","title":null},
"y":{"field":"p","type":"quantitative","title":null}}},
{"data":{"name":"arrows"},"mark":{"type":"line","color":"#19a83f","strokeWidth":4,"strokeCap":"round","strokeJoin":"round","clip":true},
"encoding":{
"x":{"field":"date","type":"temporal","title":null},
"y":{"field":"p","type":"quantitative","title":null},
"detail":{"field":"seg","type":"nominal"},"order":{"field":"k","type":"quantitative"}}},
{"data":{"name":"levels"},"transform":[{"filter":"datum.v != 6437.9"}],"mark":{"type":"tick","orient":"horizontal","size":57,"thickness":16,"xOffset":29,"clip":false},
"encoding":{
"x":{"field":"end","type":"temporal","title":null},
"y":{"field":"v","type":"quantitative","title":null},
"color":{"field":"kind","type":"nominal","scale":{"domain":["res","sup","last"],"range":["#f41d1d","#4cae50","#1f23e8"]},"legend":null}}},
{"data":{"name":"levels"},"transform":[{"filter":"datum.v == 6437.9"}],"mark":{"type":"tick","orient":"horizontal","size":57,"thickness":16,"xOffset":29,"yOffset":9,"clip":false},
"encoding":{
"x":{"field":"end","type":"temporal","title":null},
"y":{"field":"v","type":"quantitative","title":null},
"color":{"field":"kind","type":"nominal","scale":{"domain":["res","sup","last"],"range":["#f41d1d","#4cae50","#1f23e8"]},"legend":null}}},
{"data":{"name":"levels"},"transform":[{"filter":"datum.v != 6437.9"}],"mark":{"type":"text","color":"#ffffff","fontSize":11,"align":"center","baseline":"middle","xOffset":29,"clip":false},
"encoding":{
"x":{"field":"end","type":"temporal","title":null},
"y":{"field":"v","type":"quantitative","title":null},
"text":{"field":"v","type":"quantitative","format":".1f"}}},
{"data":{"name":"levels"},"transform":[{"filter":"datum.v == 6437.9"}],"mark":{"type":"text","color":"#ffffff","fontSize":11,"align":"center","baseline":"middle","xOffset":29,"yOffset":9,"clip":false},
"encoding":{
"x":{"field":"end","type":"temporal","title":null},
"y":{"field":"v","type":"quantitative","title":null},
"text":{"field":"v","type":"quantitative","format":".1f"}}}
]
},
{
"width":1711,"height":113,
"title":{"text":"RSI (14, close)","anchor":"start","frame":"group","offset":-22,"dx":10,"font":"Liberation Sans","fontSize":11.5,"fontWeight":"normal","color":"#555555"},
"layer":[
{"data":{"values":[{"lo":30,"hi":70}]},"mark":{"type":"rect","color":"#9c27b0","opacity":0.1},
"encoding":{"y":{"field":"lo","type":"quantitative","title":null,"scale":{"domain":[15.7,92.0],"nice":false,"zero":false},
"axis":{"orient":"right","values":[20,40,60,80],"tickCount":20,"format":".2f","grid":true,"domain":false,"tickSize":4,"labelPadding":4,"labelOverlap":false}},"y2":{"field":"hi"}}},
{"data":{"values":[{"v":30},{"v":70}]},"mark":{"type":"rule","color":"#b3a6bb","strokeWidth":1,"strokeDash":[5,4]},
"encoding":{"y":{"field":"v","type":"quantitative","title":null}}},
{"data":{"name":"daily"},"mark":{"type":"line","color":"#b150c5","strokeWidth":1.5,"clip":true},
"encoding":{
"x":{"field":"date","type":"temporal","title":null,"scale":{"type":"utc","domain":[{"year":2019,"month":6,"date":6,"hours":6,"utc":true},{"year":2020,"month":3,"date":28,"hours":20,"utc":true}]},
"axis":{"values":[{"year":2019,"month":6,"date":17,"utc":true},{"year":2019,"month":7,"date":1,"utc":true},{"year":2019,"month":7,"date":15,"utc":true},{"year":2019,"month":8,"date":1,"utc":true},{"year":2019,"month":8,"date":19,"utc":true},{"year":2019,"month":9,"date":1,"utc":true},{"year":2019,"month":9,"date":16,"utc":true},{"year":2019,"month":10,"date":1,"utc":true},{"year":2019,"month":10,"date":14,"utc":true},{"year":2019,"month":11,"date":1,"utc":true},{"year":2019,"month":11,"date":18,"utc":true},{"year":2019,"month":12,"date":1,"utc":true},{"year":2019,"month":12,"date":16,"utc":true},{"year":2020,"month":1,"date":1,"utc":true},{"year":2020,"month":1,"date":14,"utc":true},{"year":2020,"month":2,"date":1,"utc":true},{"year":2020,"month":2,"date":17,"utc":true},{"year":2020,"month":3,"date":1,"utc":true},{"year":2020,"month":3,"date":16,"utc":true}],"tickCount":40,"labels":false,"ticks":false,"domain":true,"domainColor":"#ababab","domainWidth":3,"grid":true}},
"y":{"field":"rsi","type":"quantitative","title":null}}}
]
},
{
"width":1711,"height":89,
"title":{"text":"MACD (12, 26, close, 9)","anchor":"start","frame":"group","offset":-23,"dx":10,"font":"Liberation Sans","fontSize":11.5,"fontWeight":"normal","color":"#555555"},
"layer":[
{"data":{"name":"daily"},"mark":{"type":"rule","color":"#f2437b","strokeWidth":1.3,"clip":true},
"encoding":{
"x":{"field":"date","type":"temporal","title":null,"scale":{"type":"utc","domain":[{"year":2019,"month":6,"date":6,"hours":6,"utc":true},{"year":2020,"month":3,"date":28,"hours":20,"utc":true}]},
"axis":{"values":[{"year":2019,"month":6,"date":17,"utc":true},{"year":2019,"month":7,"date":1,"utc":true},{"year":2019,"month":7,"date":15,"utc":true},{"year":2019,"month":8,"date":1,"utc":true},{"year":2019,"month":8,"date":19,"utc":true},{"year":2019,"month":9,"date":1,"utc":true},{"year":2019,"month":9,"date":16,"utc":true},{"year":2019,"month":10,"date":1,"utc":true},{"year":2019,"month":10,"date":14,"utc":true},{"year":2019,"month":11,"date":1,"utc":true},{"year":2019,"month":11,"date":18,"utc":true},{"year":2019,"month":12,"date":1,"utc":true},{"year":2019,"month":12,"date":16,"utc":true},{"year":2020,"month":1,"date":1,"utc":true},{"year":2020,"month":1,"date":14,"utc":true},{"year":2020,"month":2,"date":1,"utc":true},{"year":2020,"month":2,"date":17,"utc":true},{"year":2020,"month":3,"date":1,"utc":true},{"year":2020,"month":3,"date":16,"utc":true}],"tickCount":40,
"labelExpr":"utcdate(datum.value) == 1 ? (utcmonth(datum.value) == 0 ? utcFormat(datum.value, '%Y') : utcFormat(datum.value, '%b')) : '' + utcdate(datum.value)",
"grid":true,"domain":false,"ticks":true,"tickSize":3,"labelPadding":7,"labelFlush":false,"labelOverlap":false}},
"y":{"field":"hist","type":"quantitative","title":null,"scale":{"domain":[-638,1155],"nice":false,"zero":false},
"axis":{"orient":"right","values":[0,1000],"tickCount":20,"format":".1f","grid":true,"domain":false,"tickSize":4,"labelPadding":4,"labelOverlap":false}},
"y2":{"datum":0}}},
{"data":{"name":"macd"},"mark":{"type":"line","strokeWidth":1.6,"clip":true},
"encoding":{
"x":{"field":"date","type":"temporal","title":null},
"y":{"field":"v","type":"quantitative","title":null},
"color":{"field":"s","type":"nominal","scale":{"domain":["macd","signal"],"range":["#41a4f0","#f7922f"]},"legend":null}}}
]
}
]
}
